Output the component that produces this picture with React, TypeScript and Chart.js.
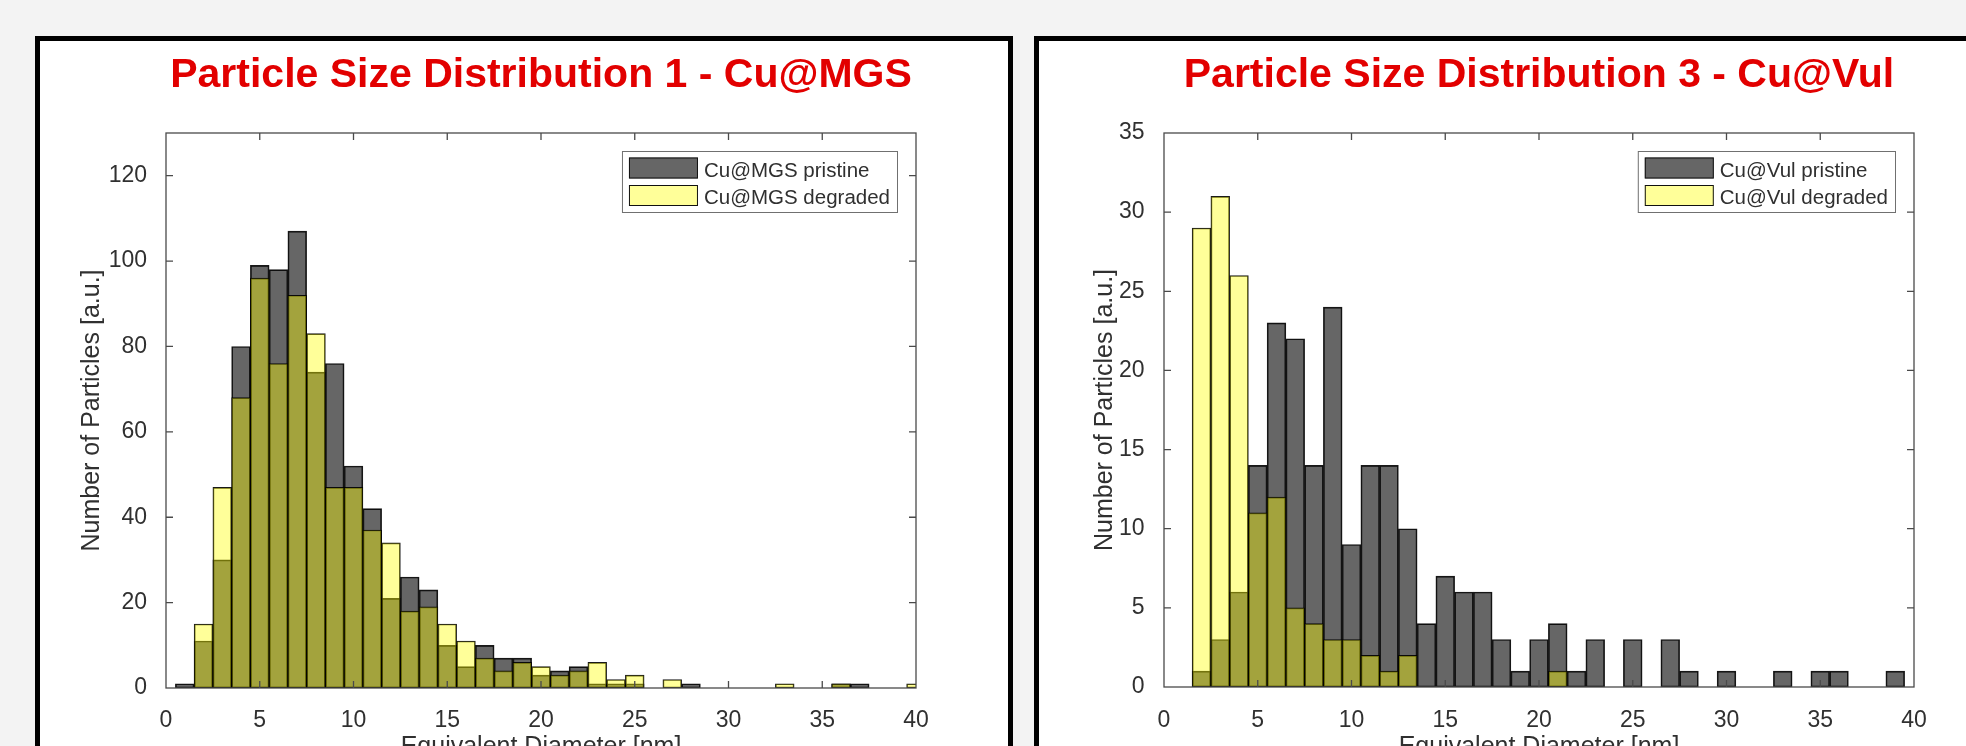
import React, { useEffect, useRef } from 'react';
import { Chart, registerables } from 'chart.js';

Chart.register(...registerables);

// ---------------- data ----------------
const BIN_CENTERS = [1, 2, 3, 4, 5, 6, 7, 8, 9, 10, 11, 12, 13, 14, 15, 16, 17, 18, 19, 20,
  21, 22, 23, 24, 25, 26, 27, 28, 29, 30, 31, 32, 33, 34, 35, 36, 37, 38, 39, 40];

const MGS_PRISTINE = [1, 11, 30, 80, 99, 98, 107, 74, 76, 52, 42, 21, 26, 23, 10, 5, 10, 7, 7, 3,
  4, 5, 1, 1, 1, 0, 0, 1, 0, 0, 0, 0, 0, 0, 0, 1, 1, 0, 0, 0];
const MGS_DEGRADED = [0, 15, 47, 68, 96, 76, 92, 83, 47, 47, 37, 34, 18, 19, 15, 11, 7, 4, 6, 5,
  3, 4, 6, 2, 3, 0, 2, 0, 0, 0, 0, 0, 1, 0, 0, 1, 0, 0, 0, 1];

const VUL_PRISTINE = [0, 1, 3, 6, 14, 23, 22, 14, 24, 9, 14, 14, 10, 4, 7, 6, 6, 3, 1, 3,
  4, 1, 3, 0, 3, 0, 3, 1, 0, 1, 0, 0, 1, 0, 1, 1, 0, 0, 1, 0];
const VUL_DEGRADED = [0, 29, 31, 26, 11, 12, 5, 4, 3, 3, 2, 1, 2, 0, 0, 0, 0, 0, 0, 0,
  1, 0, 0, 0, 0, 0, 0, 0, 0, 0, 0, 0, 0, 0, 0, 0, 0, 0, 0, 0];

const TITLE_1 = 'Particle Size Distribution 1 - Cu@MGS';
const TITLE_3 = 'Particle Size Distribution 3 - Cu@Vul';
const LABELS_1 = ['Cu@MGS pristine', 'Cu@MGS degraded'];
const LABELS_3 = ['Cu@Vul pristine', 'Cu@Vul degraded'];
const X_LABEL = 'Equivalent Diameter [nm]';
const Y_LABEL = 'Number of Particles [a.u.]';

const X_MIN = 0;
const X_MAX = 40;
const X_STEP = 5;
const Y1_MAX = 130;
const Y1_STEP = 20;
const Y3_MAX = 35;
const Y3_STEP = 5;

// ---------------- style ----------------
const FAMILY = "'Liberation Sans', Arial, Helvetica, sans-serif";
const TEXT = '#303030';
const AXIS = '#4a4a4a';
const TITLE_RED = '#e20000';
const PRISTINE_FILL = 'rgba(0,0,0,0.6)';
const DEGRADED_FILL = 'rgba(255,255,0,0.4)';
const PRISTINE_SWATCH = '#666666';
const DEGRADED_SWATCH = '#ffff99';
const EDGE = 'rgba(0,0,0,0.9)';

const CANVAS_W = 968;
const CANVAS_H = 800;

const toPoints = (vals: number[]) =>
  BIN_CENTERS.map((x, i) => ({ x, y: vals[i] === 0 ? null : vals[i] }));

const framePlugin = {
  id: 'matlabFrame',
  afterDatasetsDraw(chart: any) {
    const { ctx, chartArea: a, scales } = chart;
    const xs = scales.x;
    const ys = scales.y;
    const TL = 7;
    ctx.save();
    ctx.strokeStyle = AXIS;
    ctx.lineWidth = 1.3;
    ctx.beginPath();
    xs.ticks.forEach((t: any) => {
      const p = xs.getPixelForValue(t.value);
      if (p <= a.left + 1 || p >= a.right - 1) return;
      ctx.moveTo(p, a.bottom);
      ctx.lineTo(p, a.bottom - TL);
      ctx.moveTo(p, a.top);
      ctx.lineTo(p, a.top + TL);
    });
    ys.ticks.forEach((t: any) => {
      const p = ys.getPixelForValue(t.value);
      if (p <= a.top + 1 || p >= a.bottom - 1) return;
      ctx.moveTo(a.left, p);
      ctx.lineTo(a.left + TL, p);
      ctx.moveTo(a.right, p);
      ctx.lineTo(a.right - TL, p);
    });
    ctx.stroke();
    ctx.strokeRect(a.left, a.top, a.right - a.left, a.bottom - a.top);
    ctx.restore();
  },
};

const legendPlugin = {
  id: 'boxLegend',
  afterDraw(chart: any) {
    const { ctx, chartArea: a } = chart;
    const ds = chart.data.datasets;
    ctx.save();
    ctx.font = `20.5px ${FAMILY}`;
    const tw = Math.max(...ds.map((d: any) => ctx.measureText(d.label).width));
    const w = 82 + tw + 8;
    const h = 62;
    const x = a.right - 18 - w;
    const y = a.top + 18;
    ctx.fillStyle = '#ffffff';
    ctx.fillRect(x, y, w, h);
    ctx.strokeStyle = '#707070';
    ctx.lineWidth = 1;
    ctx.strokeRect(x + 0.5, y + 0.5, w - 1, h - 1);
    ds.forEach((d: any, i: number) => {
      const sy = y + 6.5 + i * 27.5;
      ctx.fillStyle = d.swatch;
      ctx.fillRect(x + 7, sy, 69, 21);
      ctx.strokeStyle = '#111';
      ctx.strokeRect(x + 7.5, sy + 0.5, 68, 20);
      ctx.fillStyle = TEXT;
      ctx.textBaseline = 'alphabetic';
      ctx.textAlign = 'left';
      ctx.fillText(d.label, x + 82, y + 25.8 + i * 26.8);
    });
    ctx.restore();
  },
};

type Spec = {
  title: string;
  labels: string[];
  pristine: number[];
  degraded: number[];
  yMax: number;
  yStep: number;
  yWidth: number;
  padRight: number;
  xHeight: number;
  yTitlePad: number;
  xTickPad: number;
  yTickPad: number;
};

function makeConfig(s: Spec): any {
  return {
    type: 'bar',
    data: {
      datasets: [
        {
          label: s.labels[0],
          data: toPoints(s.pristine),
          backgroundColor: PRISTINE_FILL,
          borderColor: EDGE,
          borderWidth: 1,
          borderSkipped: false,
          grouped: false,
          barPercentage: 1,
          categoryPercentage: 1,
          clip: 0,
          order: 2,
          swatch: PRISTINE_SWATCH,
        },
        {
          label: s.labels[1],
          data: toPoints(s.degraded),
          backgroundColor: DEGRADED_FILL,
          borderColor: EDGE,
          borderWidth: 1,
          borderSkipped: false,
          grouped: false,
          barPercentage: 1,
          categoryPercentage: 1,
          clip: 0,
          order: 1,
          swatch: DEGRADED_SWATCH,
        },
      ],
    },
    options: {
      responsive: false,
      maintainAspectRatio: false,
      animation: false,
      events: [],
      layout: { padding: { left: 0, right: s.padRight, top: 0, bottom: 0 } },
      plugins: {
        legend: { display: false },
        tooltip: { enabled: false },
        title: {
          display: true,
          text: s.title,
          color: TITLE_RED,
          fullSize: false,
          font: { size: 41, weight: 'bold', family: FAMILY, lineHeight: 1.2 },
          padding: { top: 10.2, bottom: 32.6 },
        },
      },
      scales: {
        x: {
          type: 'linear',
          min: X_MIN,
          max: X_MAX,
          offset: false,
          grid: { display: false },
          border: { display: false },
          ticks: {
            stepSize: X_STEP,
            padding: s.xTickPad,
            color: TEXT,
            maxRotation: 0,
            autoSkip: false,
            font: { size: 23, family: FAMILY },
          },
          title: {
            display: true,
            text: X_LABEL,
            color: TEXT,
            font: { size: 25, family: FAMILY, lineHeight: 1.2 },
            padding: { top: 0, bottom: 78.8 },
          },
          afterFit: (sc: any) => {
            sc.height = s.xHeight;
          },
        },
        y: {
          type: 'linear',
          min: 0,
          max: s.yMax,
          grid: { display: false },
          border: { display: false },
          ticks: {
            stepSize: s.yStep,
            padding: s.yTickPad,
            color: TEXT,
            font: { size: 23, family: FAMILY },
          },
          afterBuildTicks: (sc: any) => {
            sc.ticks = sc.ticks.filter((t: any) => t.value % s.yStep === 0);
          },
          title: {
            display: true,
            text: Y_LABEL,
            color: TEXT,
            font: { size: 25, family: FAMILY, lineHeight: 1.2 },
            padding: { top: s.yTitlePad, bottom: 0 },
          },
          afterFit: (sc: any) => {
            sc.width = s.yWidth;
          },
        },
      },
    },
    plugins: [framePlugin, legendPlugin],
  };
}

function Panel({ spec, left }: { spec: Spec; left: number }) {
  const ref = useRef<HTMLCanvasElement>(null);
  useEffect(() => {
    if (!ref.current) return;
    const chart = new Chart(ref.current, makeConfig(spec));
    return () => chart.destroy();
  }, []);
  return (
    <div
      style={{
        position: 'absolute',
        left,
        top: 36,
        width: 978,
        height: 810,
        boxSizing: 'border-box',
        border: '5px solid #000',
        background: '#ffffff',
      }}
    >
      <canvas
        ref={ref}
        width={CANVAS_W}
        height={CANVAS_H}
        style={{ position: 'absolute', left: 0, top: 0, width: CANVAS_W, height: CANVAS_H, display: 'block' }}
      />
    </div>
  );
}

const SPEC_1: Spec = {
  title: TITLE_1,
  labels: LABELS_1,
  pristine: MGS_PRISTINE,
  degraded: MGS_DEGRADED,
  yMax: Y1_MAX,
  yStep: Y1_STEP,
  yWidth: 126,
  padRight: 92,
  xHeight: 153,
  yTitlePad: 37.5,
  xTickPad: 11,
  yTickPad: 11,
};

const SPEC_3: Spec = {
  title: TITLE_3,
  labels: LABELS_3,
  pristine: VUL_PRISTINE,
  degraded: VUL_DEGRADED,
  yMax: Y3_MAX,
  yStep: Y3_STEP,
  yWidth: 125,
  padRight: 93,
  xHeight: 154,
  yTitlePad: 50.9,
  xTickPad: 12,
  yTickPad: 11.5,
};

export default function App() {
  return (
    <div
      style={{
        position: 'fixed',
        left: 0,
        top: 0,
        width: 1966,
        height: 746,
        overflow: 'hidden',
        background: '#f3f3f3',
      }}
    >
      <Panel spec={SPEC_1} left={35} />
      <Panel spec={SPEC_3} left={1034} />
    </div>
  );
}
